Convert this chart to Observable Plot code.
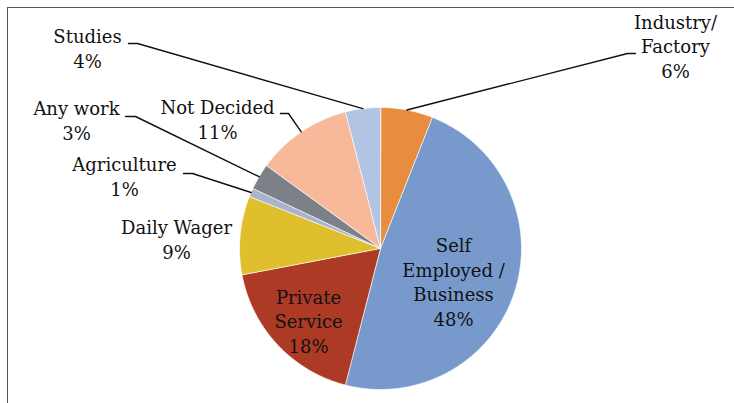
<!DOCTYPE html>
<html>
<head>
<meta charset="utf-8">
<script src="https://cdn.jsdelivr.net/npm/d3@7"></script>
<script src="https://cdn.jsdelivr.net/npm/@observablehq/plot@0.6"></script>
<style>
  html, body { margin: 0; padding: 0; background: #fff; }
  #wrap { position: relative; width: 734px; height: 403px; overflow: hidden; }
  #frame { position: absolute; left: 7px; top: 7px; width: 740px; height: 410px;
           border-left: 1px solid #555; border-top: 1px solid #555; pointer-events: none; }
  #chart svg { position: absolute; left: 0; top: 0; }
  #chart svg text { font-family: "DejaVu Serif", "Liberation Serif", serif !important; }
</style>
</head>
<body>
<div id="wrap"><div id="chart"></div><div id="frame"></div></div>
<script>
// ---- data ----
const categories = ["Industry/ Factory", "Self Employed / Business", "Private Service", "Daily Wager", "Agriculture", "Any work", "Not Decided", "Studies"];
const values = [6, 48, 18, 9, 1, 3, 11, 4];
const labelLines = ["Industry/\nFactory", "Self\nEmployed /\nBusiness", "Private\nService", "Daily Wager", "Agriculture", "Any work", "Not Decided", "Studies"];
const colors = ["#E88C3E", "#7799CC", "#AD3A25", "#E0BF2E", "#A9B4CC", "#7C8087", "#F8B99B", "#B2C4E4"];

// ---- layout (pixels relative to pie centre) ----
const W = 734, H = 403, CX = 380, CY = 248, R = 141;
const labelPos = [[675 - CX, 77 - CY], [453 - CX, 325 - CY], [308 - CX, 352 - CY], [176 - CX, 258 - CY], [124 - CX, 195 - CY], [76 - CX, 139 - CY], [217 - CX, 138 - CY], [87 - CX, 67 - CY]];
const leaderStart = [[[255, -195], [247, -195]], null, null, null, [[-197, -75], [-188, -75]], [[-255, -132], [-245, -132]], [[-100, -135], [-92, -135]], [[-252, -205], [-243, -205]]];

const total = d3.sum(values);
const arcs = d3.pie().sort(null).value(d => d)(values);

const slicePts = [];
arcs.forEach((a, i) => {
  slicePts.push({name: categories[i], x: 0, y: 0});
  const steps = Math.max(2, Math.ceil((a.endAngle - a.startAngle) / (Math.PI / 360)));
  for (let k = 0; k <= steps; k++) {
    const t = a.startAngle + (a.endAngle - a.startAngle) * k / steps;
    slicePts.push({name: categories[i], x: R * Math.sin(t), y: -R * Math.cos(t)});
  }
});

const labels = categories.map((c, i) => ({
  name: c,
  text: labelLines[i] + "\n" + Math.round(values[i] / total * 100) + "%",
  x: labelPos[i][0], y: labelPos[i][1]
}));

const leaderPts = [];
arcs.forEach((a, i) => {
  if (!leaderStart[i]) return;
  const mid = (a.startAngle + a.endAngle) / 2;
  leaderStart[i].forEach(p => leaderPts.push({name: categories[i], x: p[0], y: p[1]}));
  leaderPts.push({name: categories[i], x: R * Math.sin(mid), y: -R * Math.cos(mid)});
});

const chart = Plot.plot({
  width: W, height: H,
  margin: 0,
  x: {domain: [-CX, W - CX], range: [0, W], axis: null},
  y: {domain: [-CY, H - CY], range: [0, H], axis: null},
  color: {domain: categories, range: colors},
  style: {fontFamily: "'DejaVu Serif', 'Liberation Serif', serif", fontSize: "18px", color: "#111", background: "transparent"},
  marks: [
    Plot.line(slicePts, {x: "x", y: "y", z: "name", fill: "name", stroke: "white", strokeWidth: 0.7, curve: "linear-closed"}),
    Plot.line(leaderPts, {x: "x", y: "y", z: "name", stroke: "#111", strokeWidth: 1.4}),
    Plot.text(labels, {x: "x", y: "y", text: "text", lineAnchor: "bottom", lineHeight: 1.36, fill: "#111", fontSize: 18})
  ]
});
document.getElementById("chart").appendChild(chart);
</script>
</body>
</html>
